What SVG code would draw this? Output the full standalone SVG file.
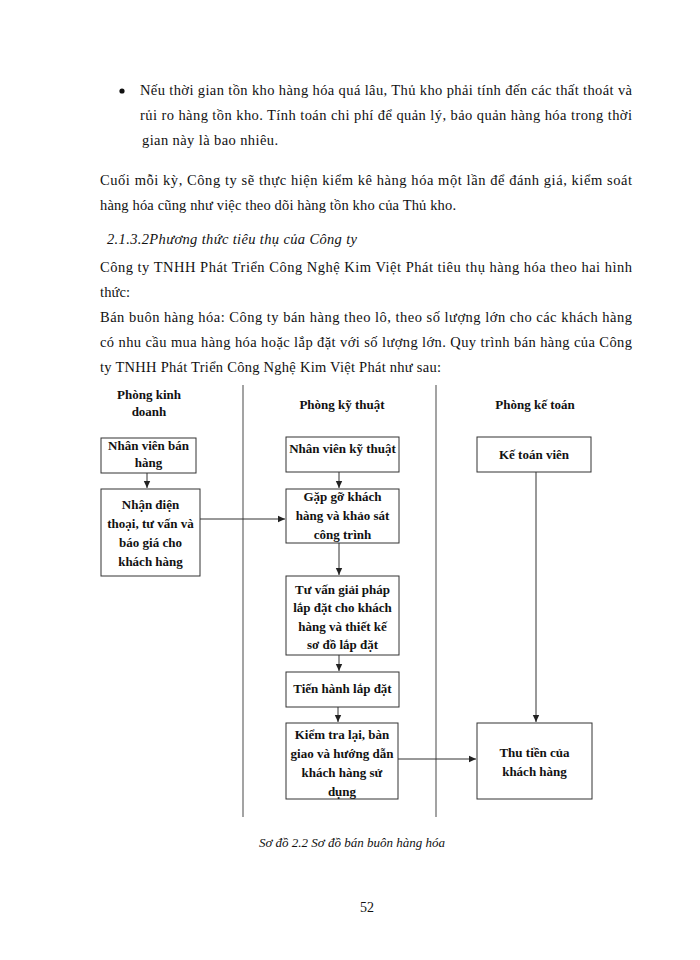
<svg xmlns="http://www.w3.org/2000/svg" width="700" height="960" viewBox="0 0 700 960">
<defs>
<marker id="ah" markerWidth="8" markerHeight="8" refX="7" refY="4" orient="auto" markerUnits="userSpaceOnUse">
<path d="M0,0.8 L7,4 L0,7.2 Z" fill="#222"/>
</marker>
<style>
.p{font-family:"Liberation Serif","Times New Roman",serif;font-size:14.5px;fill:#111}
.it{font-style:italic}
.b{font-family:"Liberation Serif","Times New Roman",serif;font-size:13px;font-weight:bold;fill:#111;text-anchor:middle}
.box{fill:#fff;stroke:#333;stroke-width:1}
.div{stroke:#666;stroke-width:1.2}
.c{stroke:#333;stroke-width:1;fill:none;marker-end:url(#ah)}
</style>
</defs>
<rect width="700" height="960" fill="#fff"/>
<g id="text">
<circle cx="122" cy="91" r="2.6" fill="#111"/>
<text class="p" x="140" y="95" textLength="492" lengthAdjust="spacing">Nếu thời gian tồn kho hàng hóa quá lâu, Thủ kho phải tính đến các thất thoát và</text>
<text class="p" x="140" y="120" textLength="492" lengthAdjust="spacing">rủi ro hàng tồn kho. Tính toán chi phí để quản lý, bảo quản hàng hóa trong thời</text>
<text class="p" x="142" y="145" textLength="136" lengthAdjust="spacing">gian này là bao nhiêu.</text>
<text class="p" x="100" y="185" textLength="532" lengthAdjust="spacing">Cuối mỗi kỳ, Công ty sẽ thực hiện kiểm kê hàng hóa một lần để đánh giá, kiểm soát</text>
<text class="p" x="100" y="210" textLength="356" lengthAdjust="spacing">hàng hóa cũng như việc theo dõi hàng tồn kho của Thủ kho.</text>
<text class="p it" x="107" y="244" textLength="250" lengthAdjust="spacing">2.1.3.2Phương thức tiêu thụ của Công ty</text>
<text class="p" x="100" y="272" textLength="532" lengthAdjust="spacing">Công ty TNHH Phát Triển Công Nghệ Kim Việt Phát tiêu thụ hàng hóa theo hai hình</text>
<text class="p" x="100" y="297" textLength="30" lengthAdjust="spacing">thức:</text>
<text class="p" x="100" y="322" textLength="532" lengthAdjust="spacing">Bán buôn hàng hóa: Công ty bán hàng theo lô, theo số lượng lớn cho các khách hàng</text>
<text class="p" x="100" y="347" textLength="532" lengthAdjust="spacing">có nhu cầu mua hàng hóa hoặc lắp đặt với số lượng lớn. Quy trình bán hàng của Công</text>
<text class="p" x="100" y="372" textLength="341" lengthAdjust="spacing">ty TNHH Phát Triển Công Nghệ Kim Việt Phát như sau:</text>
</g>
<g id="lanes">
<line class="div" x1="243" y1="385" x2="243" y2="817"/>
<line class="div" x1="436" y1="385" x2="436" y2="817"/>
<text class="b" x="149" y="399">Phòng kinh</text>
<text class="b" x="149" y="416">doanh</text>
<text class="b" x="342" y="409">Phòng kỹ thuật</text>
<text class="b" x="535" y="409">Phòng kế toán</text>
</g>
<g id="connectors">
<line class="c" x1="147" y1="473" x2="147" y2="488"/>
<line class="c" x1="200" y1="519" x2="285" y2="519"/>
<line class="c" x1="339" y1="472" x2="339" y2="488"/>
<line class="c" x1="339" y1="543" x2="339" y2="575"/>
<line class="c" x1="339" y1="655" x2="339" y2="671"/>
<line class="c" x1="338" y1="707" x2="338" y2="722"/>
<line class="c" x1="398" y1="759" x2="476" y2="759"/>
<line class="c" x1="536" y1="472" x2="536" y2="722"/>
</g>
<g id="n1">
<rect class="box" x="101" y="438" width="95" height="35"/>
<text class="b" x="148.5" y="450">Nhân viên bán</text>
<text class="b" x="148.5" y="467">hàng</text>
</g>
<g id="n2">
<rect class="box" x="101" y="489" width="99" height="87"/>
<text class="b" x="150.5" y="509">Nhận điện</text>
<text class="b" x="150.5" y="528">thoại, tư vấn và</text>
<text class="b" x="150.5" y="547">báo giá cho</text>
<text class="b" x="150.5" y="566">khách hàng</text>
</g>
<g id="n3">
<rect class="box" x="286" y="437" width="113" height="35"/>
<text class="b" x="342.5" y="453">Nhân viên kỹ thuật</text>
</g>
<g id="n4">
<rect class="box" x="286" y="489" width="113" height="54"/>
<text class="b" x="342.5" y="501">Gặp gỡ khách</text>
<text class="b" x="342.5" y="520">hàng và khảo sát</text>
<text class="b" x="342.5" y="539">công trình</text>
</g>
<g id="n5">
<rect class="box" x="286" y="576" width="113" height="79"/>
<text class="b" x="342.5" y="594">Tư vấn giải pháp</text>
<text class="b" x="342.5" y="612">lắp đặt cho khách</text>
<text class="b" x="342.5" y="631">hàng và thiết kế</text>
<text class="b" x="342.5" y="649">sơ đồ lắp đặt</text>
</g>
<g id="n6">
<rect class="box" x="286" y="672" width="113" height="35"/>
<text class="b" x="342.5" y="693">Tiến hành lắp đặt</text>
</g>
<g id="n7">
<rect class="box" x="286" y="723" width="112" height="76"/>
<text class="b" x="342" y="739">Kiểm tra lại, bàn</text>
<text class="b" x="342" y="758">giao và hướng dẫn</text>
<text class="b" x="342" y="777">khách hàng sử</text>
<text class="b" x="342" y="796">dụng</text>
</g>
<g id="n8">
<rect class="box" x="477" y="437" width="114" height="35"/>
<text class="b" x="534" y="459">Kế toán viên</text>
</g>
<g id="n9">
<rect class="box" x="477" y="723" width="115" height="76"/>
<text class="b" x="534.5" y="757">Thu tiền của</text>
<text class="b" x="534.5" y="776">khách hàng</text>
</g>
<g id="caption">
<text class="p it" x="352" y="847" text-anchor="middle" style="font-size:13px">Sơ đồ 2.2 Sơ đồ bán buôn hàng hóa</text>
<text class="p" x="367" y="912" text-anchor="middle" style="font-size:14px">52</text>
</g>
</svg>
